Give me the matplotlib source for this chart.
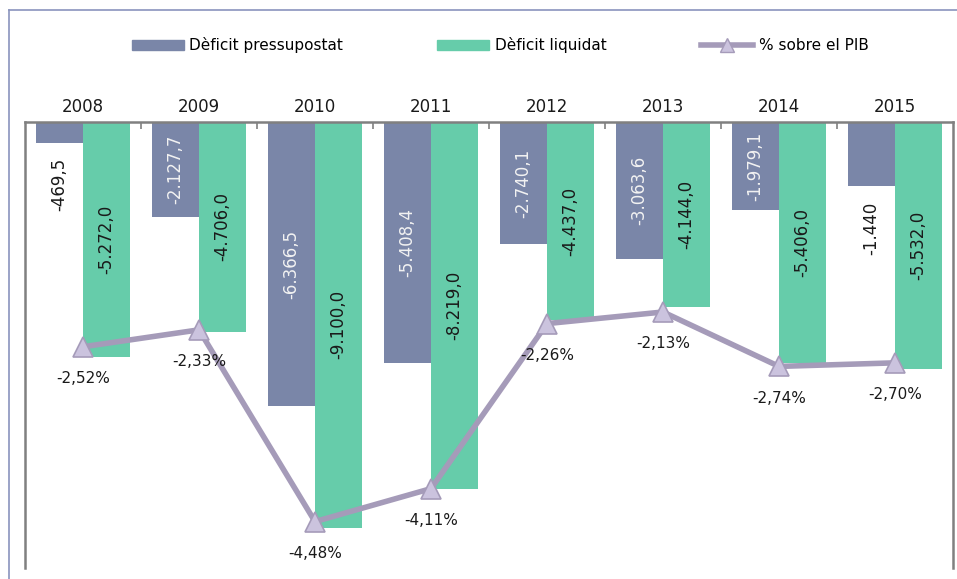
import matplotlib.pyplot as plt
import numpy as np
from matplotlib.lines import Line2D

# Data
years = ['2008', '2009', '2010', '2011', '2012', '2013', '2014', '2015']
deficit_pressupostat = [-469.5, -2127.7, -6366.5, -5408.4, -2740.1, -3063.6, -1979.1, -1440.0]
deficit_liquidat = [-5272.0, -4706.0, -9100.0, -8219.0, -4437.0, -4144.0, -5406.0, -5532.0]
pct_pib = [-2.52, -2.33, -4.48, -4.11, -2.26, -2.13, -2.74, -2.70]
labels_pressupostat = ['-469,5', '-2.127,7', '-6.366,5', '-5.408,4', '-2.740,1', '-3.063,6', '-1.979,1', '-1.440']
labels_liquidat = ['-5.272,0', '-4.706,0', '-9.100,0', '-8.219,0', '-4.437,0', '-4.144,0', '-5.406,0', '-5.532,0']
labels_pct = ['-2,52%', '-2,33%', '-4,48%', '-4,11%', '-2,26%', '-2,13%', '-2,74%', '-2,70%']

blue = '#7a86a8'
green = '#66ccaa'
line_col = '#a59bb9'
marker_fill = '#cbc3de'
grey = '#808080'

plt.rcParams['font.family'] = ['DejaVu Sans']

fig = plt.figure(figsize=(9.57, 5.79), dpi=100)
W, H = 957, 579
ax = fig.add_axes([25 / W, 1 - 568 / H, (953 - 25) / W, (568 - 122) / H])

x = np.arange(len(years))
w = 0.405
ax.bar(x - w / 2, deficit_pressupostat, w, color=blue, zorder=2)
ax.bar(x + w / 2, deficit_liquidat, w, color=green, zorder=2)

ax.set_xlim(-0.5, len(years) - 0.5)
ax.set_ylim(-10000, 0)

# bar value labels
for i, v in enumerate(deficit_pressupostat):
    if abs(v) < 1500:
        ax.annotate(labels_pressupostat[i], (x[i] - w / 2, v), xytext=(0, -11), textcoords='offset points',
                    rotation=90, ha='center', va='top', fontsize=12, color='#1a1a1a', zorder=4)
    else:
        ax.text(x[i] - w / 2, v / 2, labels_pressupostat[i], rotation=90, ha='center', va='center',
                fontsize=12, color='#f2f2f2', zorder=4)
for i, v in enumerate(deficit_liquidat):
    ax.text(x[i] + w / 2, v / 2, labels_liquidat[i], rotation=90, ha='center', va='center',
            fontsize=12, color='#1a1a1a', zorder=4)

# axis styling
ax.xaxis.tick_top()
ax.set_xticks(x)
ax.set_xticklabels(years, fontsize=12, color='#1a1a1a')
ax.tick_params(axis='x', which='major', length=0, pad=4)
ax.set_xticks(np.arange(0.5, len(years) - 1, 1), minor=True)
ax.tick_params(axis='x', which='minor', direction='in', length=5, width=1.2, color=grey, top=True, bottom=False)
ax.set_yticks([])
for s in ['left', 'right', 'top']:
    ax.spines[s].set_color(grey)
    ax.spines[s].set_linewidth(1.8)
ax.spines['bottom'].set_visible(False)

# % sobre el PIB on secondary axis
ax2 = ax.twinx()
ax2.set_ylim(-5, 0)
ax2.set_yticks([])
for s in ax2.spines.values():
    s.set_visible(False)
ax2.plot(x, pct_pib, color=line_col, linewidth=4, marker='^', markersize=15,
         markerfacecolor=marker_fill, markeredgecolor=line_col, markeredgewidth=1.2, zorder=3)
for i, v in enumerate(pct_pib):
    ax2.annotate(labels_pct[i], (x[i], v), xytext=(0, -23), textcoords='offset points',
                 ha='center', va='center', fontsize=11, color='#1a1a1a')

# legend
handles = [plt.Rectangle((0, 0), 1, 1, color=blue),
           plt.Rectangle((0, 0), 1, 1, color=green),
           Line2D([], [], color=line_col, linewidth=4, marker='^', markersize=10,
                  markerfacecolor=marker_fill, markeredgecolor=line_col)]
fig.legend(handles, ['Dèficit pressupostat', 'Dèficit liquidat', '% sobre el PIB'],
           loc='center', bbox_to_anchor=(500 / W, 1 - 45 / H), ncol=3, frameon=False,
           fontsize=11, handlelength=3.4, handleheight=0.65, handletextpad=0.35, columnspacing=6.2)

# outer chart border
fig.add_artist(Line2D([9 / W, 9 / W], [0, 1 - 10 / H], color='#8a94bd', linewidth=1.2))
fig.add_artist(Line2D([9 / W, 1], [1 - 10 / H, 1 - 10 / H], color='#8a94bd', linewidth=1.2))

fig.savefig('out.png', dpi=100)
